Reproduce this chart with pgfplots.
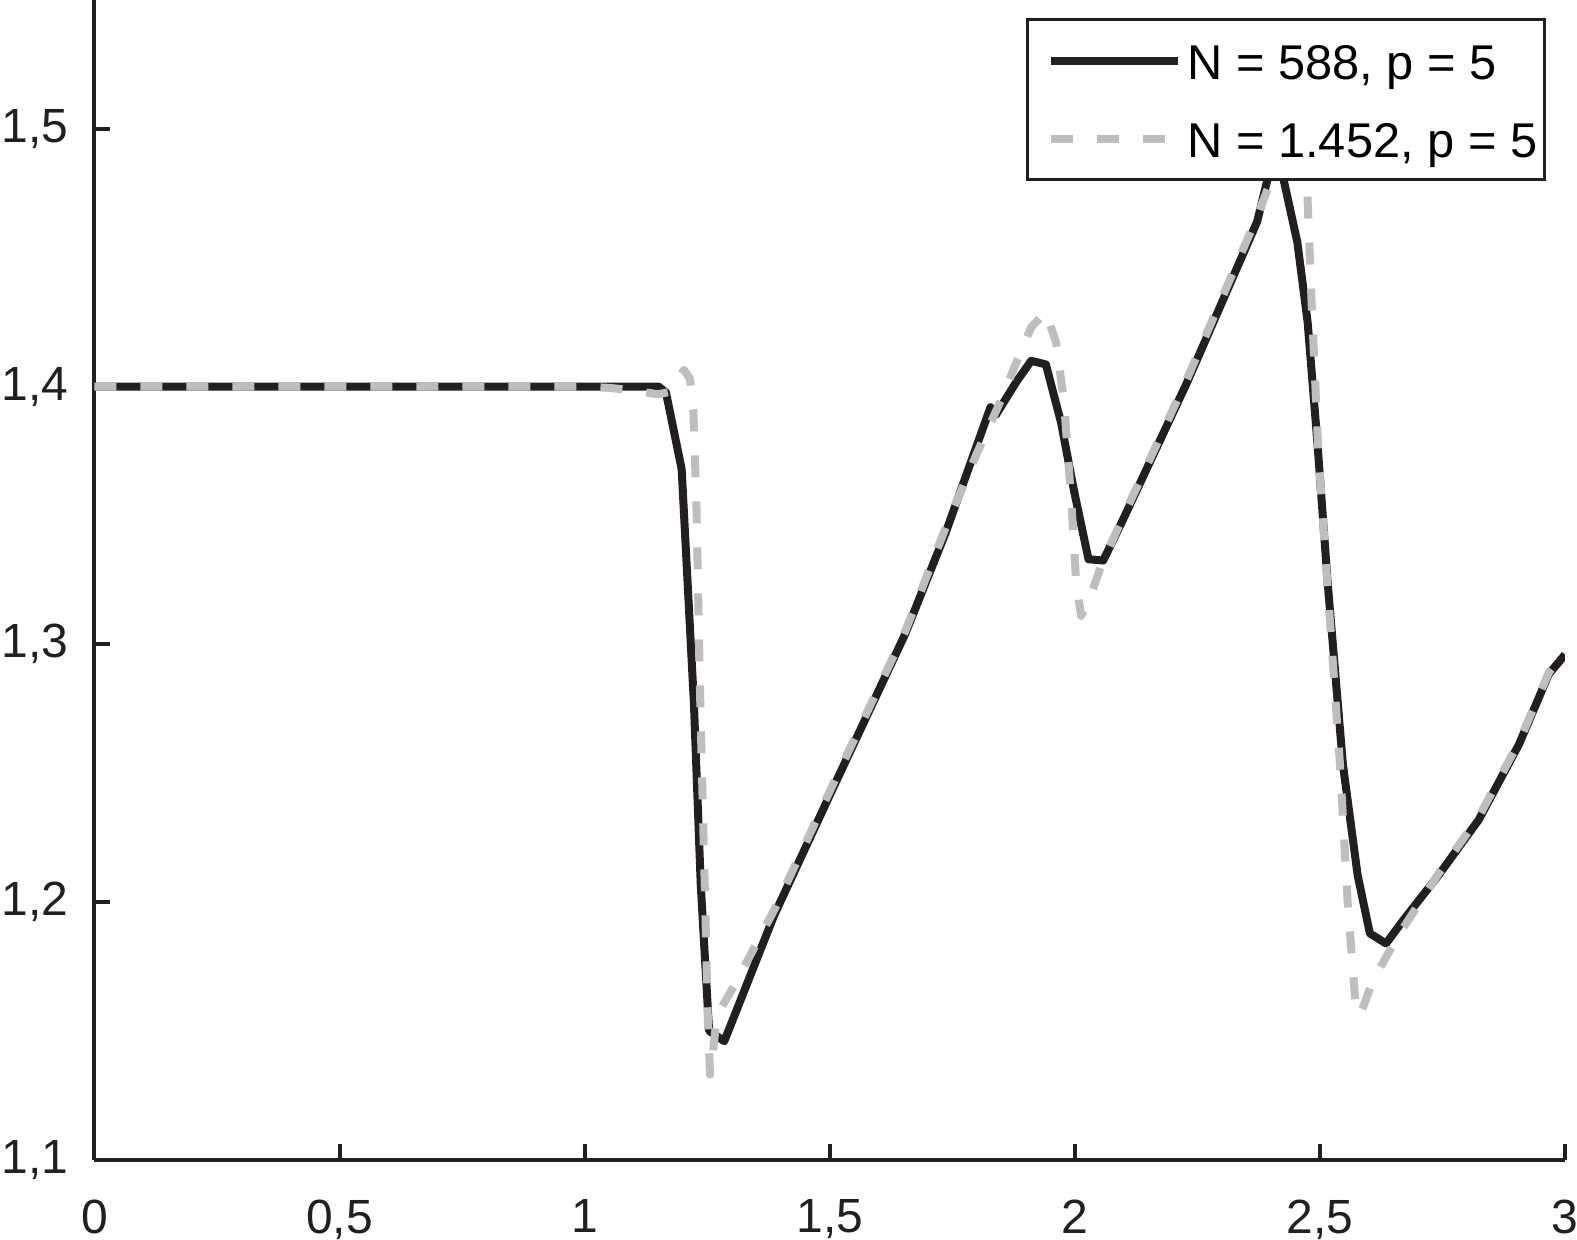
\documentclass[border=0pt]{standalone}
\usepackage{fontspec}
\setmainfont{Liberation Sans}
\usepackage{pgfplots}
\pgfplotsset{compat=1.18}
\definecolor{lgray}{RGB}{190,190,190}
\definecolor{dblack}{RGB}{35,31,32}
\begin{document}
\begin{tikzpicture}
\begin{axis}[name=ax,
 scale only axis, width=367.6pt, height=289.9pt,
 xmin=0, xmax=3, ymin=1.1, ymax=1.55,
 axis x line*=bottom, axis y line*=left,
 axis line style={line width=1pt, dblack},
 tick align=inside, major tick length=4pt, tick style={line width=1pt, dblack},
 xtick={0,0.5,1,1.5,2,2.5,3}, ytick={1.1,1.2,1.3,1.4,1.5},
 xticklabels={0,{0,5},1,{1,5},2,{2,5},3},
 yticklabels={{1,1},{1,2},{1,3},{1,4},{1,5}},
 tick label style={font=\fontsize{12}{14}\selectfont, color=dblack},
 xticklabel style={yshift=-6.5pt},
 yticklabel style={xshift=-3pt},
 legend style={at={(1,1)}, anchor=north east, xshift=-4.75pt, yshift=-4.5pt,
   draw=dblack, line width=0.8pt, fill=white, inner xsep=1.75pt, inner ysep=0.5pt,
   font=\fontsize{12.2}{14}\selectfont, row sep=0pt, column sep=1.25pt,
   nodes={inner xsep=0pt, inner ysep=0pt, text height=14.5pt, text depth=5pt}},
 legend cell align=left,
 legend image code/.code={\path (0pt,0pt); \draw[#1] (3.25pt,0pt) -- (35pt,0pt);},
]
\addplot[dblack, line width=2pt, line join=round] coordinates {
(0,1.4) (0.5,1.4) (1.0,1.4) (1.151,1.4) (1.166,1.3977) (1.198,1.368) (1.223,1.277)
(1.237,1.2065) (1.254,1.150) (1.285,1.146) (1.387,1.195) (1.510,1.2455) (1.654,1.304)
(1.736,1.343) (1.828,1.392) (1.839,1.389) (1.880,1.4016) (1.911,1.410) (1.941,1.4086)
(1.972,1.386) (1.999,1.359) (2.028,1.333) (2.058,1.3325) (2.095,1.347) (2.229,1.4016)
(2.372,1.464) (2.408,1.492) (2.424,1.482) (2.454,1.456) (2.475,1.425) (2.495,1.378)
(2.516,1.3236) (2.547,1.2533) (2.577,1.2104) (2.602,1.1878) (2.635,1.1839) (2.670,1.1929)
(2.742,1.2104) (2.824,1.2319) (2.906,1.2611) (2.967,1.2884) (3.0,1.296)
};
\addlegendentry{N = 588, p = 5}
\addplot[lgray, line width=2pt, dash pattern=on 5.5pt off 6pt, line join=round] coordinates {
(0,1.4) (0.5,1.4) (1.0,1.4) (1.05,1.3995) (1.10,1.3985) (1.15,1.397) (1.175,1.398)
(1.19,1.403) (1.203,1.4065) (1.215,1.403) (1.222,1.39) (1.228,1.355) (1.236,1.277)
(1.246,1.199) (1.252,1.15) (1.256,1.133) (1.262,1.142) (1.27,1.156) (1.305,1.1675)
(1.387,1.197) (1.51,1.247) (1.654,1.305) (1.736,1.345) (1.80,1.374) (1.85,1.395)
(1.88,1.409) (1.911,1.423) (1.941,1.429) (1.962,1.417) (1.978,1.394) (1.993,1.355)
(2.003,1.3236) (2.013,1.311) (2.034,1.3197) (2.054,1.3306) (2.095,1.348) (2.229,1.403)
(2.372,1.466) (2.42,1.49) (2.44,1.50) (2.46,1.505) (2.472,1.49) (2.475,1.472)
(2.483,1.433) (2.497,1.374) (2.518,1.3158) (2.541,1.2533) (2.557,1.1987) (2.573,1.1597)
(2.582,1.156) (2.608,1.1695) (2.66,1.187) (2.742,1.211) (2.824,1.233) (2.906,1.262)
(2.967,1.289) (3.0,1.298)
};
\addlegendentry{N = 1.452, p = 5}
\end{axis}
\pgfresetboundingbox
\path[use as bounding box] ([shift={(-23.6pt,-19.85pt)}]ax.south west) rectangle ([shift={(3pt,0pt)}]ax.north east);
\end{tikzpicture}
\end{document}
